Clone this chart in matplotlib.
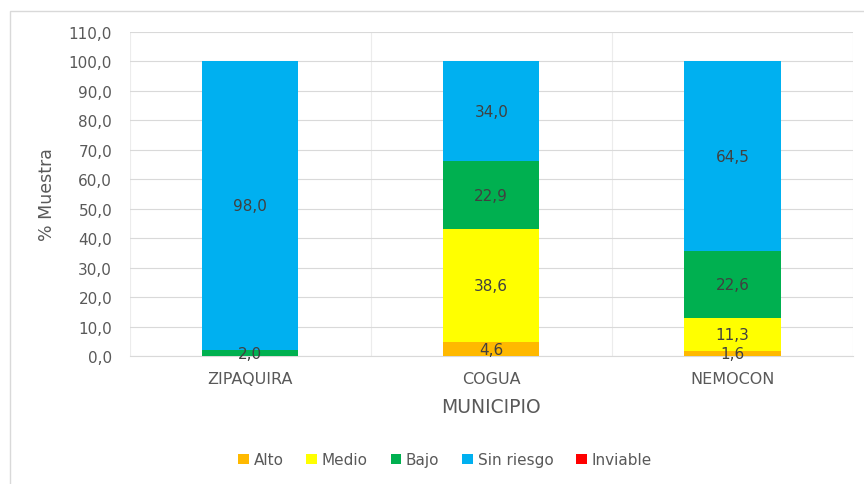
import numpy as np
import matplotlib.pyplot as plt
from matplotlib.patches import Rectangle

plt.rcParams['font.family'] = ['DejaVu Sans']

# Data
municipios = ["ZIPAQUIRA", "COGUA", "NEMOCON"]
alto = [0.0, 4.6, 1.6]
medio = [0.0, 38.6, 11.3]
bajo = [2.0, 22.9, 22.6]
sin_riesgo = [98.0, 34.0, 64.5]
inviable = [0.0, 0.0, 0.0]

series = [("Alto", alto, "#ffb900"),
          ("Medio", medio, "#ffff00"),
          ("Bajo", bajo, "#00b050"),
          ("Sin riesgo", sin_riesgo, "#00b0f0"),
          ("Inviable", inviable, "#ff0000")]

fig = plt.figure(figsize=(8.64, 4.85), dpi=100)
ax = fig.add_axes([129.5 / 864, 1 - 357 / 485, (853 - 129.5) / 864, (357 - 33) / 485])

x = np.arange(len(municipios))
bottom = np.zeros(len(municipios))
for name, vals, color in series:
    vals = np.array(vals)
    ax.bar(x, vals, width=0.4, bottom=bottom, color=color, label=name, zorder=3)
    for xi, b, v in zip(x, bottom, vals):
        if v > 0:
            ax.text(xi, b + v / 2, f"{v:.1f}".replace(".", ","), ha="center", va="center",
                    fontsize=11, color="#404040", zorder=4)
    bottom += vals

ax.set_xlim(-0.5, 2.5)
ax.set_ylim(0, 110)
ax.set_yticks(np.arange(0, 111, 10))
ax.set_yticklabels([f"{v:.1f}".replace(".", ",") for v in np.arange(0, 111, 10)])
ax.set_xticks(x)
ax.set_xticklabels(municipios)
ax.set_xticks(np.arange(-0.5, 2.6, 0.5), minor=True)

ax.tick_params(axis="both", length=0, labelsize=11, labelcolor="#595959")
ax.tick_params(axis="x", labelsize=11.5, pad=11)
ax.tick_params(axis="y", pad=12.5)
ax.tick_params(axis="x", which="minor", length=0)

ax.grid(axis="y", color="#d9d9d9", linewidth=0.8, zorder=0)
ax.grid(axis="x", which="minor", color="#ececec", linewidth=0.8, zorder=0)
for side in ["top", "right", "left"]:
    ax.spines[side].set_visible(False)
ax.spines["bottom"].set_color("#d9d9d9")

ax.set_ylabel("% Muestra", fontsize=12.5, color="#595959", labelpad=9)
ax.set_xlabel("MUNICIPIO", fontsize=13.5, color="#595959", labelpad=8)

fig.legend(loc="center", bbox_to_anchor=(0.515, 0.05), ncol=5, frameon=False,
           fontsize=11, labelcolor="#595959", handlelength=0.7, handleheight=0.7,
           handletextpad=0.3, columnspacing=1.5)

fig.patches.append(Rectangle((9.5 / 864, -0.1), 1.2, 1.1 - 12 / 485, transform=fig.transFigure,
                             fill=False, edgecolor="#d9d9d9", linewidth=1))

fig.savefig("out.png", dpi=100)
